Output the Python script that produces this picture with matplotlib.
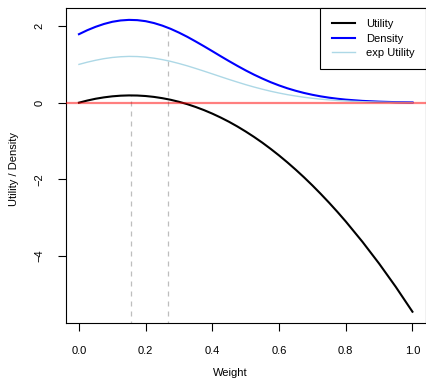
import matplotlib
matplotlib.use("Agg")
import matplotlib.pyplot as plt

plt.rcParams['font.family'] = ['Liberation Sans', 'DejaVu Sans']

weight = [0.000, 0.025, 0.050, 0.075, 0.100, 0.125, 0.150, 0.175, 0.200, 0.225,
          0.250, 0.275, 0.300, 0.325, 0.350, 0.375, 0.400, 0.425, 0.450, 0.475,
          0.500, 0.525, 0.550, 0.575, 0.600, 0.625, 0.650, 0.675, 0.700, 0.725,
          0.750, 0.775, 0.800, 0.850, 0.900, 0.950, 1.000]
utility = [0.000, 0.056, 0.103, 0.139, 0.166, 0.183, 0.190, 0.187, 0.174, 0.151,
           0.118, 0.076, 0.023, -0.039, -0.112, -0.194, -0.286, -0.388, -0.499, -0.621,
           -0.753, -0.894, -1.045, -1.207, -1.378, -1.559, -1.750, -1.950, -2.161, -2.382,
           -2.612, -2.852, -3.102, -3.633, -4.202, -4.811, -5.460]
density = [1.789, 1.893, 1.982, 2.056, 2.113, 2.148, 2.163, 2.156, 2.129, 2.080,
           2.013, 1.929, 1.830, 1.720, 1.599, 1.474, 1.345, 1.214, 1.086, 0.962,
           0.843, 0.732, 0.630, 0.535, 0.451, 0.376, 0.311, 0.254, 0.206, 0.165,
           0.131, 0.103, 0.080, 0.047, 0.027, 0.014, 0.008]
exp_utility = [1.000, 1.058, 1.108, 1.150, 1.181, 1.200, 1.209, 1.205, 1.190, 1.163,
               1.125, 1.079, 1.023, 0.962, 0.894, 0.824, 0.752, 0.679, 0.607, 0.538,
               0.471, 0.409, 0.352, 0.299, 0.252, 0.210, 0.174, 0.142, 0.115, 0.092,
               0.073, 0.058, 0.045, 0.026, 0.015, 0.008, 0.004]

marker_x = [0.156, 0.267]       # argmax of utility, mean of density
marker_top = [0.19, 1.96]

x_ticks = [0.0, 0.2, 0.4, 0.6, 0.8, 1.0]
y_ticks = [-4, -2, 0, 2]

fig = plt.figure(figsize=(4.26, 3.85), dpi=100)
ax = fig.add_axes([0.154, 0.160, 0.8455, 0.8187])

ax.vlines(marker_x, -10, marker_top, colors='#BEBEBE', linestyles=(0, (4, 4)), linewidth=0.9, zorder=1)
ax.plot(weight, utility, color='black', lw=1.5, label='Utility', zorder=3)
ax.plot(weight, density, color='blue', lw=1.5, label='Density', zorder=3)
ax.plot(weight, exp_utility, color='lightblue', lw=1.0, label='exp Utility', zorder=3)
ax.axhline(0, color='red', alpha=0.5, lw=1.6, zorder=4)

ax.set_xlim(-0.04, 1.04)
ax.set_ylim(-5.765, 2.468)
ax.set_xticks(x_ticks)
ax.set_xticklabels(['0.0', '0.2', '0.4', '0.6', '0.8', '1.0'])
ax.set_yticks(y_ticks)
ax.set_yticklabels(['\u22124', '\u22122', '0', '2'], rotation=90, va='center')
ax.tick_params(direction='out', length=6, width=0.8, labelsize=8, pad=10)
ax.tick_params(axis='y', pad=9)
for s in ax.spines.values():
    s.set_linewidth(0.8)

fig.text(0.54, 0.031, 'Weight', ha='center', va='center', fontsize=8)
fig.text(0.033, 0.56, 'Utility / Density', ha='center', va='center', rotation=90, fontsize=8)

leg = ax.legend(loc='upper right', fontsize=8, frameon=True, fancybox=False,
                edgecolor='black', framealpha=1, borderaxespad=0, handlelength=2.1,
                handletextpad=1.0, labelspacing=0.4, borderpad=1.0)
leg.get_frame().set_linewidth(0.8)

fig.savefig('out.png', dpi=100)
